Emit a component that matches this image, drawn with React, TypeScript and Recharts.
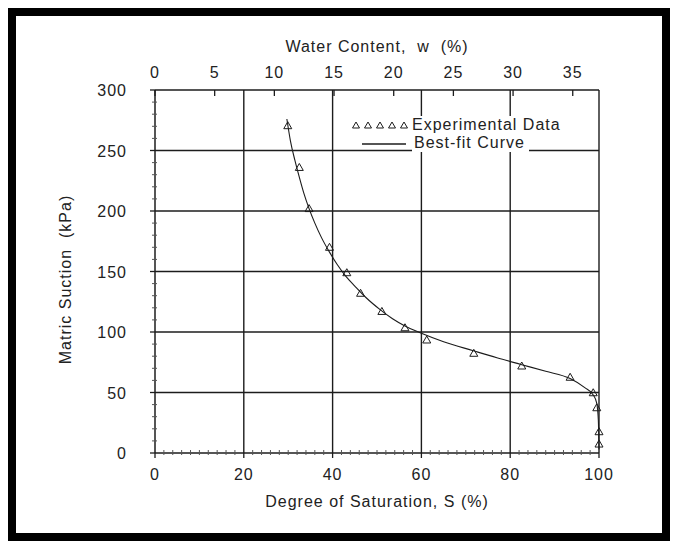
import { ComposedChart, Line, Scatter, XAxis, YAxis, ReferenceLine, Legend } from 'recharts'

// measured points: degree of saturation S (%) and matric suction (kPa)
const saturation = [29.9, 32.5, 34.7, 39.3, 43.2, 46.3, 51.1, 56.3, 61.2, 71.8, 82.6, 93.5, 98.7, 99.5, 100, 100]
const suction = [270.5, 236, 202, 170, 149, 132, 117, 103.5, 93.4, 82.4, 71.9, 62.6, 49.8, 37.4, 17.6, 7.4]

// best-fit curve
const curveSaturation = [29.7, 30.5, 31.5, 32.5, 33.5, 34.7, 36, 37.5, 39.3, 41, 43, 45, 47.5, 50.7, 53.5, 56.3, 60, 65, 71.7, 77, 82.6, 88, 93.5, 96.8, 98.7, 99.5, 99.85, 100]
const curveSuction = [276, 258, 242, 228, 215, 202, 190, 178, 166, 156, 146, 138, 128.5, 118.5, 111, 105, 99, 92, 84.5, 78.7, 73, 67.5, 61.5, 54, 48, 41, 27, 3]

const satMajorTicks = [0, 20, 40, 60, 80, 100]
const suctionMajorTicks = [0, 50, 100, 150, 200, 250, 300]
const waterTicks = [0, 5, 10, 15, 20, 25, 30, 35]
const waterMax = 37.2
const satGrid = [20, 40, 60, 80, 100]
const suctionGrid = [50, 100, 150, 200, 250]
const satMinorStep = 2
const suctionMinorStep = 10

const steps = (max: number, step: number) =>
  Array.from({ length: Math.round(max / step) + 1 }, (_, i) => i * step)
const satTicks = steps(100, satMinorStep)
const suctionTicks = steps(300, suctionMinorStep)

const points = saturation.map((s, i) => ({ s, psi: suction[i] }))
const curve = curveSaturation.map((s, i) => ({ s, psi: curveSuction[i] }))
// empty rows that only give the top (water content) axis something to belong to
const waterRows = waterTicks.map(w => ({ w }))

const INK = '#1c1c1c'
const MINOR = '#555'
const FONT = '"Liberation Sans", Arial, Helvetica, sans-serif'
const textStyle = { fontFamily: FONT, fontSize: 16, fill: '#222', letterSpacing: 1, whiteSpace: 'pre' as const }

const BottomTick = ({ x, y, payload }: any) => {
  const major = satMajorTicks.includes(payload.value)
  return (
    <g>
      {major
        ? <line x1={x} y1={y} x2={x} y2={y + 5} stroke={INK} strokeWidth={1.3} />
        : <line x1={x} y1={y - 3} x2={x} y2={y + 2} stroke={MINOR} strokeWidth={1} />}
      {major && <text x={x} y={y + 27} textAnchor="middle" style={textStyle}>{payload.value}</text>}
    </g>
  )
}

const LeftTick = ({ x, y, payload }: any) => {
  const major = suctionMajorTicks.includes(payload.value)
  return (
    <g>
      {major
        ? <line x1={x - 5} y1={y} x2={x} y2={y} stroke={INK} strokeWidth={1.3} />
        : <line x1={x - 3} y1={y} x2={x + 2} y2={y} stroke={MINOR} strokeWidth={1} />}
      {major && <text x={x - 28} y={y + 6} textAnchor="end" style={textStyle}>{payload.value}</text>}
    </g>
  )
}

const TopTick = ({ x, y, payload }: any) => (
  <g>
    <line x1={x} y1={y} x2={x} y2={y + 6} stroke={INK} strokeWidth={1.3} />
    <text x={x} y={y - 12} textAnchor="middle" style={textStyle}>{payload.value}</text>
  </g>
)

const TopTitle = ({ viewBox }: any) => (
  <text x={viewBox.x + viewBox.width / 2} y={viewBox.y - 8} textAnchor="middle" style={textStyle}>
    Water Content,  w  (%)
  </text>
)

const BottomTitle = ({ viewBox }: any) => (
  <text x={viewBox.x + viewBox.width / 2} y={viewBox.y + 54} textAnchor="middle" style={textStyle}>
    Degree of Saturation, S (%)
  </text>
)

const LeftTitle = ({ viewBox }: any) => {
  const cx = viewBox.x - 30
  const cy = viewBox.y + viewBox.height / 2 + 8
  return (
    <text x={cx} y={cy} transform={`rotate(-90 ${cx} ${cy})`} textAnchor="middle" dominantBaseline="central" style={textStyle}>
      Matric Suction  (kPa)
    </text>
  )
}

const Triangle = ({ cx, cy }: any) => (
  <polygon
    points={`${cx},${cy - 4} ${cx + 4},${cy + 3} ${cx - 4},${cy + 3}`}
    fill="none"
    stroke={INK}
    strokeWidth={1}
  />
)

const LegendBox = () => (
  <div style={{ fontFamily: FONT, fontSize: 16, color: '#222', letterSpacing: 1, lineHeight: '18px' }}>
    <div style={{ display: 'flex', alignItems: 'center' }}>
      <svg width={64} height={12}>
        {[0, 1, 2, 3, 4].map(i => (
          <polygon
            key={i}
            points={`${8 + i * 12},${3} ${11.5 + i * 12},${9} ${4.5 + i * 12},${9}`}
            fill="none"
            stroke={INK}
            strokeWidth={1}
          />
        ))}
      </svg>
      <span style={{ background: '#fff', paddingLeft: 0 }}>Experimental Data</span>
    </div>
    <div style={{ display: 'flex', alignItems: 'center' }}>
      <svg width={64} height={12}>
        <line x1={14} y1={7} x2={58} y2={7} stroke={INK} strokeWidth={1.3} />
      </svg>
      <span style={{ background: '#fff', paddingLeft: 2, paddingRight: 4 }}>Best-fit Curve</span>
    </div>
  </div>
)

export default function App() {
  return (
    <div style={{ width: 662, height: 533, boxSizing: 'border-box', border: '8px solid #000', background: '#fff' }}>
      <ComposedChart width={646} height={517} margin={{ top: 44, right: 63, bottom: 50, left: 79 }}>
        <XAxis
          xAxisId="top"
          dataKey="w"
          orientation="top"
          type="number"
          domain={[0, waterMax]}
          ticks={waterTicks}
          interval={0}
          height={30}
          tickSize={0}
          tickMargin={0}
          tickLine={false}
          tick={TopTick}
          axisLine={{ stroke: INK, strokeWidth: 1.5 }}
          label={TopTitle}
          allowDataOverflow
        />
        <XAxis
          dataKey="s"
          type="number"
          domain={[0, 100]}
          ticks={satTicks}
          interval={0}
          height={30}
          tickSize={0}
          tickMargin={0}
          tickLine={false}
          tick={BottomTick}
          axisLine={{ stroke: INK, strokeWidth: 1.5 }}
          label={BottomTitle}
        />
        <YAxis
          dataKey="psi"
          type="number"
          domain={[0, 300]}
          ticks={suctionTicks}
          interval={0}
          width={60}
          tickSize={0}
          tickMargin={0}
          tickLine={false}
          tick={LeftTick}
          axisLine={{ stroke: INK, strokeWidth: 1.5 }}
          label={LeftTitle}
        />
        {satGrid.map(v => (
          <ReferenceLine key={`x${v}`} x={v} stroke={INK} strokeWidth={1.4} />
        ))}
        {suctionGrid.map(v => (
          <ReferenceLine key={`y${v}`} y={v} stroke={INK} strokeWidth={1.4} />
        ))}
        <Line
          xAxisId="top"
          data={waterRows}
          dataKey="psi"
          stroke="none"
          dot={false}
          legendType="none"
          isAnimationActive={false}
        />
        <Line
          data={curve}
          dataKey="psi"
          type="monotone"
          dot={false}
          stroke={INK}
          strokeWidth={1.1}
          isAnimationActive={false}
        />
        <Scatter data={points} dataKey="psi" shape={Triangle} isAnimationActive={false} />
        <Legend
          layout="vertical"
          align="center"
          verticalAlign="middle"
          content={LegendBox}
          wrapperStyle={{ left: 332, top: 100, width: 'auto' }}
        />
      </ComposedChart>
    </div>
  )
}
